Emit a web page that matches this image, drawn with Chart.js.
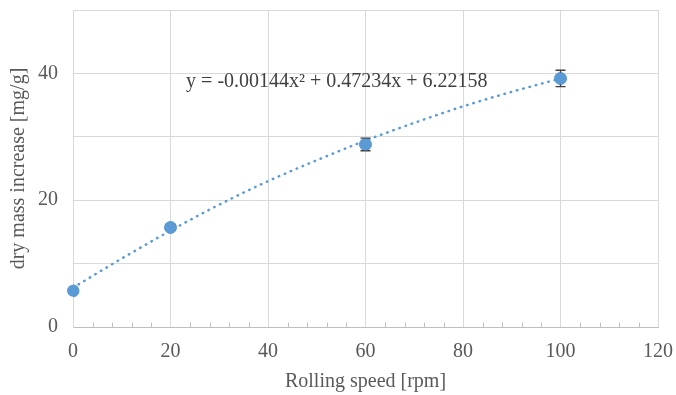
<!DOCTYPE html>
<html>
<head>
<meta charset="utf-8">
<script src="https://cdn.jsdelivr.net/npm/chart.js@4"></script>
<style>
html,body{margin:0;padding:0;background:#fff;}
#wrap{width:676px;height:395px;}
</style>
</head>
<body>
<div id="wrap"><canvas id="c" width="676" height="395"></canvas></div>
<script>
// data
const speeds = [0, 20, 60, 100];
const massIncrease = [5.7, 15.7, 28.8, 39.2];
const errors = [0.2, 0.4, 1.0, 1.3];
const trendX = [0, 10, 20, 30, 40, 50, 60, 70, 80, 90, 100];
const trendY = [6.2, 10.8, 15.2, 19.3, 23.0, 26.3, 29.4, 32.2, 34.8, 37.1, 39.2];
const equationText = 'y = -0.00144x² + 0.47234x + 6.22158';
const xTitle = 'Rolling speed [rpm]';
const yTitle = 'dry mass increase [mg/g]';

const FONT = '"Liberation Serif", "Times New Roman", serif';
const BLUE = '#5b9bd5';
const TXT = '#595959';

const extras = {
  id: 'extras',
  afterDatasetsDraw(chart) {
    const ctx = chart.ctx, xs = chart.scales.x, ys = chart.scales.y;
    ctx.save();
    ctx.strokeStyle = '#404040';
    ctx.lineWidth = 1.3;
    speeds.forEach((s, i) => {
      const px = xs.getPixelForValue(s);
      const top = ys.getPixelForValue(massIncrease[i] + errors[i]);
      const bot = ys.getPixelForValue(massIncrease[i] - errors[i]);
      ctx.beginPath();
      ctx.moveTo(px, top); ctx.lineTo(px, bot);
      ctx.moveTo(px - 5, top); ctx.lineTo(px + 5, top);
      ctx.moveTo(px - 5, bot); ctx.lineTo(px + 5, bot);
      ctx.stroke();
    });
    const meta = chart.getDatasetMeta(0);
    meta.data.forEach(pt => {
      ctx.beginPath();
      ctx.fillStyle = BLUE;
      ctx.arc(pt.x, pt.y, 6, 0, Math.PI * 2);
      ctx.fill();
    });
    ctx.fillStyle = '#404040';
    ctx.font = '20px ' + FONT;
    ctx.textBaseline = 'middle';
    ctx.textAlign = 'left';
    ctx.fillText(equationText, xs.getPixelForValue(23.2), ys.getPixelForValue(38.7));
    ctx.restore();
  },
  afterDraw(chart) {
    const ctx = chart.ctx, xs = chart.scales.x, ys = chart.scales.y;
    ctx.save();
    ctx.strokeStyle = '#bfbfbf';
    ctx.lineWidth = 1;
    const yb = Math.round(ys.getPixelForValue(0)) + 0.5;
    for (let v = 4; v < 120; v += 4) {
      if (v % 20 === 0) continue;
      const px = Math.round(xs.getPixelForValue(v)) + 0.5;
      ctx.beginPath();
      ctx.moveTo(px, yb); ctx.lineTo(px, yb - 5);
      ctx.stroke();
    }
    ctx.restore();
  }
};

new Chart(document.getElementById('c'), {
  type: 'scatter',
  data: {
    datasets: [
      {
        label: 'data',
        data: speeds.map((s, i) => ({x: s, y: massIncrease[i]})),
        backgroundColor: BLUE,
        borderColor: BLUE,
        pointRadius: 6,
        pointHoverRadius: 6,
        showLine: false,
        order: 1
      },
      {
        label: 'trend',
        type: 'line',
        data: trendX.map((x, i) => ({x: x, y: trendY[i]})),
        borderColor: BLUE,
        borderWidth: 2.5,
        borderDash: [0.5, 6],
        borderCapStyle: 'round',
        pointRadius: 0,
        tension: 0.4,
        cubicInterpolationMode: 'monotone',
        fill: false,
        order: 2
      }
    ]
  },
  options: {
    responsive: false,
    animation: false,
    events: [],
    layout: {padding: {top: 10, right: 18, left: 0, bottom: 0}},
    plugins: {legend: {display: false}, tooltip: {enabled: false}},
    scales: {
      x: {
        type: 'linear', min: 0, max: 120,
        ticks: {stepSize: 20, color: TXT, font: {family: FONT, size: 20}, padding: 13},
        grid: {color: '#d9d9d9', lineWidth: 1, tickLength: 0},
        border: {color: '#bfbfbf', width: 1},
        title: {display: true, text: xTitle, color: TXT, font: {family: FONT, size: 20}, padding: {top: 2, bottom: 1}},
        afterFit(s) { s.height = 68; s.paddingLeft = 0; s.paddingRight = 0; }
      },
      y: {
        type: 'linear', min: 0, max: 50,
        ticks: {stepSize: 10, color: TXT, font: {family: FONT, size: 20}, padding: 15,
          callback: v => (v % 20 === 0 ? v : '')},
        grid: {color: '#d9d9d9', lineWidth: 1, tickLength: 0},
        border: {color: '#d9d9d9', width: 1},
        title: {display: true, text: yTitle, color: TXT, font: {family: FONT, size: 20}, padding: {top: 7, bottom: 2}},
        afterFit(s) { s.width = 73; s.paddingTop = 0; s.paddingBottom = 0; }
      }
    }
  },
  plugins: [extras]
});
</script>
</body>
</html>
